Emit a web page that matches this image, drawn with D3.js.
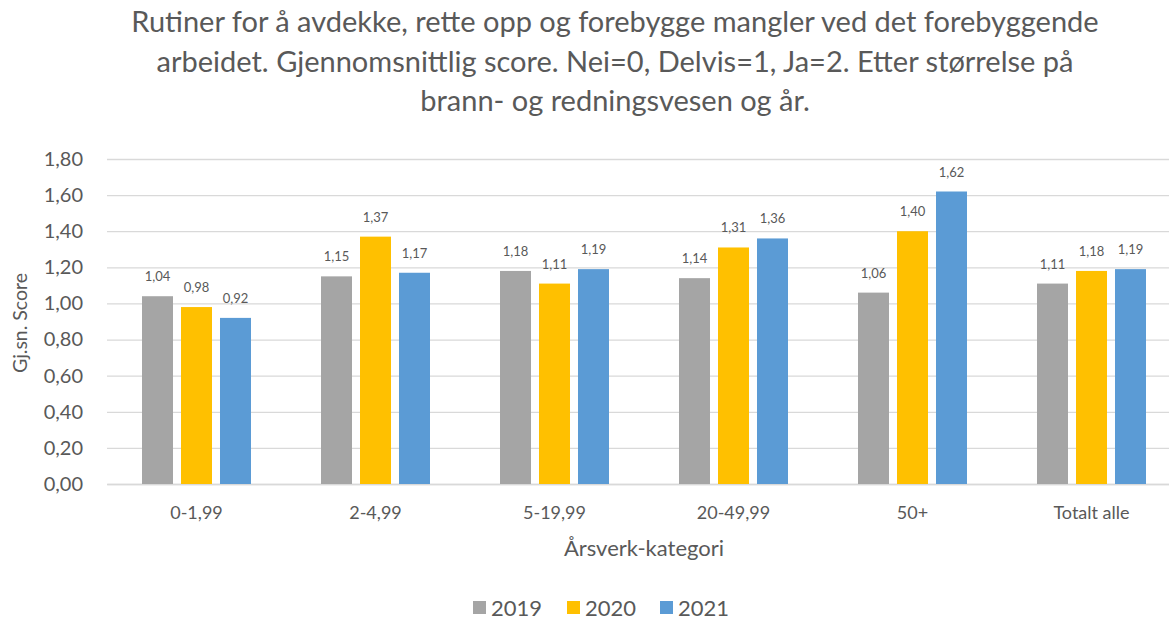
<!DOCTYPE html>
<html>
<head>
<meta charset="utf-8">
<script src="https://cdn.jsdelivr.net/npm/d3@7"></script>
<style>
  html, body { margin: 0; padding: 0; background: #fff; }
  svg { display: block; font-family: Lato, "Open Sans", sans-serif; }
</style>
</head>
<body>
<svg id="chart" width="1169" height="620"></svg>
<script>
const categories = ["0-1,99", "2-4,99", "5-19,99", "20-49,99", "50+", "Totalt alle"];
const seriesNames = ["2019", "2020", "2021"];
const values2019 = [1.04, 1.15, 1.18, 1.14, 1.06, 1.11];
const values2020 = [0.98, 1.37, 1.11, 1.31, 1.40, 1.18];
const values2021 = [0.92, 1.17, 1.19, 1.36, 1.62, 1.19];
const yTicks = [0, 0.2, 0.4, 0.6, 0.8, 1.0, 1.2, 1.4, 1.6, 1.8];
const titleLines = [
  "Rutiner for å avdekke, rette opp og forebygge mangler ved det forebyggende",
  "arbeidet. Gjennomsnittlig score. Nei=0, Delvis=1, Ja=2. Etter størrelse på",
  "brann- og redningsvesen og år."
];
const xTitle = "Årsverk-kategori";
const yTitle = "Gj.sn. Score";

const colors = ["#A5A5A5", "#FFC000", "#5B9BD5"];
const textColor = "#595959";
const seriesValues = [values2019, values2020, values2021];
const fmt = v => d3.format(".2f")(v).replace(".", ",");

const svg = d3.select("#chart");

const x0 = d3.scaleBand().domain(categories).range([107, 1181]).padding(0);
const groupW = 109;
const x1 = d3.scaleBand().domain(seriesNames).range([0, groupW]).paddingInner(0.205).paddingOuter(0);
const y = d3.scaleLinear().domain([0, 1.8]).range([484, 159]);

// title
svg.append("g").selectAll("text").data(titleLines).join("text")
  .attr("x", 615).attr("y", (d, i) => 32 + i * 39.5)
  .attr("text-anchor", "middle").attr("fill", textColor)
  .attr("font-size", 29).text(d => d);

// gridlines
const yAxis = d3.axisLeft(y).tickValues(yTicks).tickSize(-(1181 - 107)).tickFormat(fmt).tickPadding(24);
const gy = svg.append("g").attr("transform", "translate(107,0)").call(yAxis);
gy.select(".domain").remove();
gy.selectAll(".tick line").attr("stroke", "#D9D9D9").attr("stroke-width", 1.3);
gy.selectAll(".tick text").attr("fill", textColor).attr("font-size", 20).attr("font-family", "Lato, sans-serif");

// x axis
const xAxis = d3.axisBottom(x0).tickSize(0).tickPadding(22);
const gx = svg.append("g").attr("transform", "translate(0,484)").call(xAxis);
gx.select(".domain").attr("stroke", "#D9D9D9").attr("stroke-width", 1.3);
gx.selectAll(".tick text").attr("fill", textColor).attr("font-size", 18).attr("font-family", "Lato, sans-serif");

// bars
const groups = svg.append("g").selectAll("g").data(categories).join("g")
  .attr("transform", c => `translate(${x0(c) + (x0.bandwidth() - groupW) / 2},0)`);

groups.each(function(c, ci) {
  const g = d3.select(this);
  const d = seriesNames.map((s, si) => ({ s, si, v: seriesValues[si][ci] }));
  g.selectAll("rect").data(d).join("rect")
    .attr("x", e => x1(e.s)).attr("width", x1.bandwidth())
    .attr("y", e => y(e.v)).attr("height", e => y(0) - y(e.v))
    .attr("fill", e => colors[e.si]);
  g.selectAll("text").data(d).join("text")
    .attr("x", e => x1(e.s) + x1.bandwidth() / 2).attr("y", e => y(e.v) - 15)
    .attr("text-anchor", "middle").attr("fill", textColor)
    .attr("font-size", 13).text(e => fmt(e.v));
});

// axis titles
svg.append("text").attr("x", 644).attr("y", 556).attr("text-anchor", "middle")
  .attr("fill", textColor).attr("font-size", 22).text(xTitle);
svg.append("text").attr("transform", "translate(27,323) rotate(-90)").attr("text-anchor", "middle")
  .attr("fill", textColor).attr("font-size", 19.5).text(yTitle);

// legend
const legendX = [473, 567, 660];
const lg = svg.append("g").selectAll("g").data(seriesNames).join("g")
  .attr("transform", (d, i) => `translate(${legendX[i]},608)`);
lg.append("rect").attr("x", 0).attr("y", -7).attr("width", 13).attr("height", 13)
  .attr("fill", (d, i) => colors[i]);
lg.append("text").attr("x", 18).attr("y", 8).attr("fill", textColor)
  .attr("font-size", 22).text(d => d);
</script>
</body>
</html>
